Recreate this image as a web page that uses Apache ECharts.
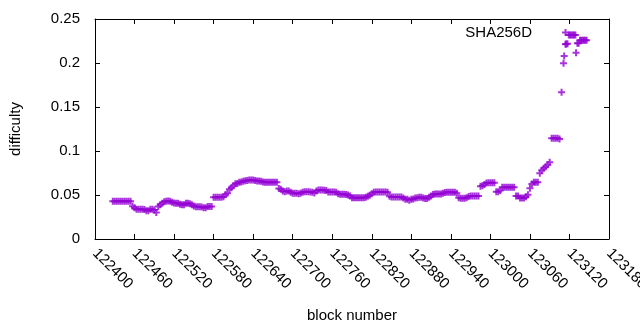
<!DOCTYPE html>
<html>
<head>
<meta charset="utf-8">
<script src="https://cdn.jsdelivr.net/npm/echarts@6/dist/echarts.min.js"></script>
<style>
  html, body { margin: 0; padding: 0; background: #fff; }
  #chart { width: 640px; height: 330px; }
</style>
</head>
<body>
<div id="chart"></div>
<script>
// difficulty per block
const mainBlocks = [
  122427, 122430, 122433, 122436, 122439, 122442, 122445, 122448, 122451, 122454,
  122457, 122460, 122463, 122466, 122469, 122472, 122475, 122478, 122481, 122484,
  122487, 122490, 122493, 122496, 122499, 122502, 122505, 122508, 122511, 122514,
  122517, 122520, 122523, 122526, 122529, 122532, 122535, 122538, 122541, 122544,
  122547, 122550, 122553, 122556, 122559, 122562, 122565, 122568, 122571, 122574,
  122577, 122580, 122583, 122586, 122589, 122592, 122595, 122598, 122601, 122604,
  122607, 122610, 122613, 122616, 122619, 122622, 122625, 122628, 122631, 122634,
  122637, 122640, 122643, 122646, 122649, 122652, 122655, 122658, 122661, 122664,
  122667, 122670, 122673, 122676, 122679, 122682, 122685, 122688, 122691, 122694,
  122697, 122700, 122703, 122706, 122709, 122712, 122715, 122718, 122721, 122724,
  122727, 122730, 122733, 122736, 122739, 122742, 122745, 122748, 122751, 122754,
  122757, 122760, 122763, 122766, 122769, 122772, 122775, 122778, 122781, 122784,
  122787, 122790, 122793, 122796, 122799, 122802, 122805, 122808, 122811, 122814,
  122817, 122820, 122823, 122826, 122829, 122832, 122835, 122838, 122841, 122844,
  122847, 122850, 122853, 122856, 122859, 122862, 122865, 122868, 122871, 122874,
  122877, 122880, 122883, 122886, 122889, 122892, 122895, 122898, 122901, 122904,
  122907, 122910, 122913, 122916, 122919, 122922, 122925, 122928, 122931, 122934,
  122937, 122940, 122943, 122946, 122949, 122952, 122955, 122958, 122961, 122964,
  122967, 122970, 122973, 122976, 122979, 122982, 122985, 122988, 122991, 122994,
  122997, 123000, 123003, 123006, 123009, 123012, 123015, 123018, 123021, 123024,
  123027, 123030, 123033, 123036, 123039, 123042, 123045, 123048, 123051, 123054,
  123057, 123060, 123063, 123066, 123069, 123072, 123075, 123078, 123081, 123084,
  123087, 123090, 123093, 123096, 123099, 123102, 123105
];
const mainDifficulty = [
  0.0428, 0.0428, 0.0428, 0.0428, 0.0428, 0.0428, 0.0428, 0.0428, 0.0428, 0.0428,
  0.0372, 0.0356, 0.0337, 0.0337, 0.0337, 0.0337, 0.0335, 0.0322, 0.0322, 0.0337,
  0.0337, 0.0330, 0.0300, 0.0370, 0.0390, 0.0405, 0.0422, 0.0430, 0.0433, 0.0430,
  0.0418, 0.0410, 0.0405, 0.0405, 0.0395, 0.0390, 0.0390, 0.0405, 0.0405, 0.0400,
  0.0390, 0.0375, 0.0367, 0.0367, 0.0367, 0.0365, 0.0356, 0.0356, 0.0370, 0.0370,
  0.0370, 0.0474, 0.0474, 0.0474, 0.0474, 0.0474, 0.0480, 0.0505, 0.0520, 0.0565,
  0.0583, 0.0605, 0.0629, 0.0632, 0.0645, 0.0648, 0.0655, 0.0663, 0.0665, 0.0670,
  0.0670, 0.0670, 0.0665, 0.0660, 0.0659, 0.0655, 0.0648, 0.0644, 0.0644, 0.0644,
  0.0644, 0.0644, 0.0644, 0.0644, 0.0575, 0.0564, 0.0545, 0.0538, 0.0545, 0.0545,
  0.0530, 0.0520, 0.0520, 0.0520, 0.0515, 0.0520, 0.0530, 0.0538, 0.0538, 0.0538,
  0.0535, 0.0530, 0.0522, 0.0545, 0.0557, 0.0557, 0.0557, 0.0555, 0.0550, 0.0534,
  0.0534, 0.0534, 0.0534, 0.0530, 0.0515, 0.0508, 0.0508, 0.0508, 0.0505, 0.0500,
  0.0490, 0.0470, 0.0470, 0.0470, 0.0470, 0.0470, 0.0470, 0.0470, 0.0475, 0.0485,
  0.0496, 0.0515, 0.0530, 0.0534, 0.0534, 0.0534, 0.0534, 0.0534, 0.0534, 0.0530,
  0.0485, 0.0477, 0.0477, 0.0477, 0.0477, 0.0477, 0.0477, 0.0465, 0.0451, 0.0451,
  0.0440, 0.0451, 0.0455, 0.0465, 0.0470, 0.0474, 0.0474, 0.0465, 0.0460, 0.0460,
  0.0474, 0.0490, 0.0505, 0.0511, 0.0511, 0.0511, 0.0511, 0.0520, 0.0528, 0.0530,
  0.0530, 0.0530, 0.0530, 0.0530, 0.0520, 0.0470, 0.0462, 0.0462, 0.0462, 0.0470,
  0.0482, 0.0489, 0.0489, 0.0489, 0.0489, 0.0489, 0.0600, 0.0606, 0.0620, 0.0635,
  0.0640, 0.0640, 0.0640, 0.0640, 0.0538, 0.0538, 0.0550, 0.0587, 0.0587, 0.0587,
  0.0587, 0.0587, 0.0587, 0.0587, 0.0489, 0.0489, 0.0466, 0.0466, 0.0466, 0.0480,
  0.0504, 0.0576, 0.0625, 0.0644, 0.0644, 0.0644, 0.0746, 0.0780, 0.0803, 0.0820,
  0.0845, 0.0871, 0.1144, 0.1144, 0.1144, 0.1144, 0.1135
];
// the jump at the end is sparser
const tailBlocks = [
  123108, 123111, 123112, 123114, 123115, 123117, 123119, 123121, 123123, 123125,
  123127, 123129, 123130, 123132, 123134, 123136, 123138, 123140, 123142, 123144,
  123146
];
const tailDifficulty = [
  0.1667, 0.1996, 0.2080, 0.2212, 0.2216, 0.2220, 0.2318, 0.2318, 0.2318, 0.2318,
  0.2318, 0.2318, 0.2117, 0.2224, 0.2224, 0.2258, 0.2258, 0.2258, 0.2258, 0.2258,
  0.2258
];
const seriesName = "SHA256D";

const points = mainBlocks.map((b, i) => [b, mainDifficulty[i]])
  .concat(tailBlocks.map((b, i) => [b, tailDifficulty[i]]));

const font = "'Liberation Sans', Arial, sans-serif";
const purple = "#9400d3";
const plus = "path://M0,5L10,5M5,0L5,10";

const frameLine = { lineStyle: { color: "#000", width: 1 }, onZero: false };
const innerTick = { inside: true, length: 5, lineStyle: { color: "#000" } };

const chart = echarts.init(document.getElementById("chart"));

chart.setOption({
  animation: false,
  textStyle: { fontFamily: font },
  grid: { left: 95, right: 31, top: 19, bottom: 91, outerBoundsMode: "none" },
  legend: {
    data: [seriesName],
    right: 70,
    top: 25,
    padding: 0,
    align: "right",
    itemWidth: 57,
    itemHeight: 7,
    selectedMode: false,
    textStyle: { fontSize: 15, color: "#000", fontFamily: font }
  },
  xAxis: [
    {
      type: "value",
      min: 122400,
      max: 123180,
      interval: 60,
      axisLine: frameLine,
      axisTick: innerTick,
      splitLine: { show: false },
      axisLabel: {
        rotate: -45,
        margin: 12,
        fontSize: 15,
        color: "#000",
        fontFamily: font,
        showMinLabel: true,
        showMaxLabel: true,
        formatter: (v) => String(v)
      },
      name: "block number",
      nameLocation: "middle",
      nameGap: 69,
      nameTextStyle: { fontSize: 15, color: "#000", fontFamily: font }
    },
    {
      type: "value",
      position: "top",
      min: 122400,
      max: 123180,
      interval: 60,
      axisLine: frameLine,
      axisTick: innerTick,
      axisLabel: { show: false },
      splitLine: { show: false }
    }
  ],
  yAxis: [
    {
      type: "value",
      min: 0,
      max: 0.25,
      interval: 0.05,
      axisLine: frameLine,
      axisTick: innerTick,
      splitLine: { show: false },
      axisLabel: { margin: 15, fontSize: 15, color: "#000", fontFamily: font },
      name: "difficulty",
      nameLocation: "middle",
      nameRotate: 90,
      nameGap: 72,
      nameTextStyle: { fontSize: 15, color: "#000", fontFamily: font }
    },
    {
      type: "value",
      position: "right",
      min: 0,
      max: 0.25,
      interval: 0.05,
      axisLine: frameLine,
      axisTick: innerTick,
      axisLabel: { show: false },
      splitLine: { show: false }
    }
  ],
  series: [
    {
      name: seriesName,
      type: "scatter",
      xAxisIndex: 0,
      yAxisIndex: 0,
      symbol: plus,
      symbolSize: 7,
      itemStyle: { color: "transparent", borderColor: purple, borderWidth: 2 },
      data: points
    }
  ]
});
</script>
</body>
</html>
